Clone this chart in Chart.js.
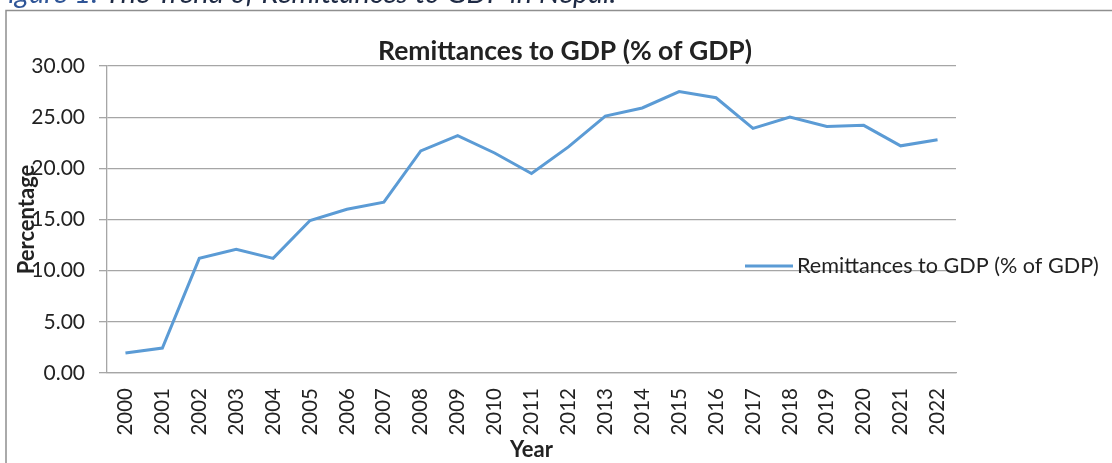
<!DOCTYPE html>
<html>
<head>
<meta charset="utf-8">
<script src="https://cdn.jsdelivr.net/npm/chart.js@4"></script>
<style>
  html, body { margin: 0; padding: 0; background: #fff; }
  #wrap { width: 1112px; height: 463px; }
</style>
</head>
<body>
<div id="wrap"><canvas id="chart" width="1112" height="463"></canvas></div>
<script>
const years = ['2000','2001','2002','2003','2004','2005','2006','2007','2008','2009','2010','2011',
               '2012','2013','2014','2015','2016','2017','2018','2019','2020','2021','2022'];
const remitPct = [1.95, 2.44, 11.2, 12.1, 11.2, 14.9, 16.0, 16.7, 21.7, 23.2, 21.5, 19.5,
                  22.1, 25.1, 25.9, 27.5, 26.9, 23.9, 25.0, 24.1, 24.2, 22.2, 22.8];
const seriesName = 'Remittances to GDP (% of GDP)';
const chartTitle = 'Remittances to GDP (% of GDP)';
const captionLead = 'Figure 1:';
const captionRest = ' The Trend of Remittances to GDP in Nepal.';

const FONT = 'Lato, "Open Sans", sans-serif';
const lineC = '#5b9bd5', gridC = '#a6a6a6', textC = '#222222';

// frame, caption, title and legend drawn straight onto the canvas
const decor = {
  id: 'decor',
  afterDraw(chart) {
    const ctx = chart.ctx;
    ctx.save();
    // outer border (top + left only visible)
    ctx.strokeStyle = '#8f8f8f'; ctx.lineWidth = 1.5;
    ctx.beginPath(); ctx.moveTo(6, 463); ctx.lineTo(6, 10.5); ctx.lineTo(1112, 10.5); ctx.stroke();
    // caption, mostly cut off at top
    ctx.font = 'italic 29px ' + FONT; ctx.textBaseline = 'alphabetic'; ctx.textAlign = 'left';
    ctx.fillStyle = '#2f5597'; ctx.fillText(captionLead, -7, 3);
    const w = ctx.measureText(captionLead).width;
    ctx.fillStyle = '#1e2a44'; ctx.fillText(captionRest, -7 + w, 3);
    // title
    ctx.font = 'bold 26.5px ' + FONT; ctx.fillStyle = textC; ctx.textAlign = 'center';
    ctx.fillText(chartTitle, 565, 60);
    // legend
    ctx.strokeStyle = lineC; ctx.lineWidth = 3;
    ctx.beginPath(); ctx.moveTo(745, 266); ctx.lineTo(793, 266); ctx.stroke();
    ctx.font = '21.6px ' + FONT; ctx.textAlign = 'left'; ctx.fillStyle = textC;
    ctx.fillText(seriesName, 797, 273);
    ctx.restore();
  }
};

new Chart(document.getElementById('chart'), {
  type: 'line',
  data: {
    labels: years,
    datasets: [{ label: seriesName, data: remitPct, borderColor: lineC, borderWidth: 3,
                 pointRadius: 0, tension: 0, fill: false }]
  },
  options: {
    responsive: false, animation: false, devicePixelRatio: 1,
    layout: { padding: { top: 66, right: 156, left: 0, bottom: 0 } },
    plugins: { legend: { display: false }, title: { display: false }, tooltip: { enabled: false } },
    scales: {
      x: {
        offset: true,
        grid: { display: false, drawTicks: false },
        border: { display: true, color: gridC, width: 1.3 },
        ticks: { color: textC, font: { family: FONT, size: 20.5 }, minRotation: 90, maxRotation: 90,
                 autoSkip: false, padding: 15 },
        title: { display: true, text: 'Year', color: textC, font: { family: FONT, size: 22, weight: 'bold' },
                 padding: { top: 0, bottom: 0 } },
        afterFit(s) { s.height = 90; }
      },
      y: {
        min: 0, max: 30,
        grid: { color: gridC, lineWidth: 1.3, tickLength: 8 },
        border: { display: true, color: gridC, width: 1.3 },
        ticks: { stepSize: 5, color: textC, font: { family: FONT, size: 21 }, padding: 14,
                 callback: v => v.toFixed(2) },
        title: { display: true, text: 'Percentage', color: textC, font: { family: FONT, size: 22, weight: 'bold' },
                 padding: { top: 14, bottom: 0 } },
        afterFit(s) { s.width = 107; }
      }
    }
  },
  plugins: [decor]
});
</script>
</body>
</html>
